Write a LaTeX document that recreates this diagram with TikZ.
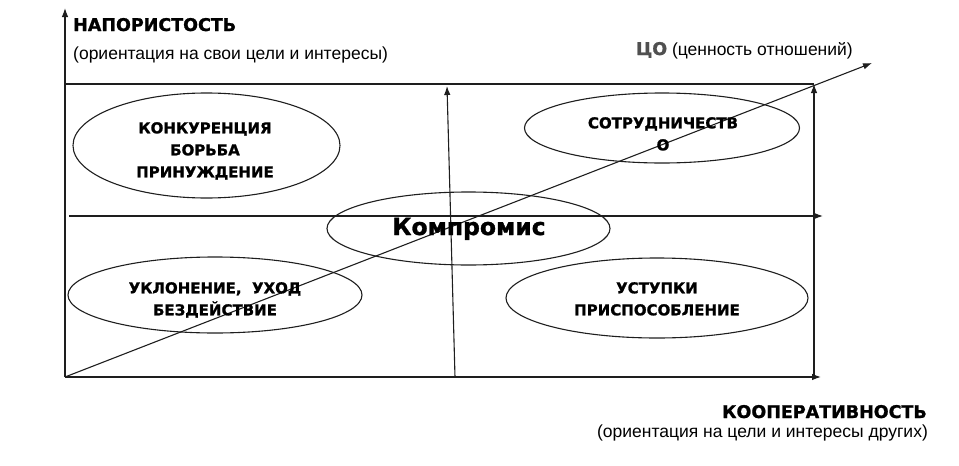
\documentclass[tikz,border=0pt]{standalone}
\usepackage{fontspec}
\setmainfont{Liberation Sans}
\newfontfamily\heavyfont{DejaVu Sans}[BoldFeatures={FakeBold=1.2}]
\usetikzlibrary{arrows.meta, positioning, shapes.geometric}
\definecolor{cline}{HTML}{1E1E1E}
\definecolor{cgray}{HTML}{505050}

\tikzset{
  axis/.style={draw=cline, line width=1.1pt, -{Latex[length=9pt, width=6.5pt]}},
  frame/.style={draw=cline, line width=1.1pt},
  oval/.style={ellipse, draw=cline, line width=1.1pt, inner sep=0pt},
  ovaltext/.style={font=\heavyfont\bfseries\fontsize{15}{22}\selectfont, align=center, inner sep=0pt, anchor=north},
  title/.style={font=\heavyfont\bfseries\fontsize{17.5}{20}\selectfont, inner sep=0pt},
  note/.style={font=\fontsize{17.5}{20}\selectfont, inner sep=0pt},
}

\begin{document}
\begin{tikzpicture}[x=1pt, y=-1pt]
  \useasboundingbox (0,0) rectangle (959,466);

  % corners of the field
  \coordinate (O) at (65,377);
  \coordinate (Ytop) at (65,8);
  \coordinate (Xend) at (821,377);
  \coordinate (TL) at (65,84);
  \coordinate (TR) at (814,84);
  \coordinate (BR) at (814,377);
  \coordinate (ML) at (69,216);
  \coordinate (MR) at (823,216);
  \coordinate (MB) at (455,377);
  \coordinate (MT) at (447,86);
  \coordinate (CO) at (872,63);

  % axes and grid lines
  \draw[axis] (O) -- (Ytop);
  \draw[axis] (O) -- (Xend);
  \draw[frame] (TL) -- (TR);
  \draw[axis] (BR) -- (TR);
  \draw[axis] (ML) -- (MR);
  \draw[axis] (MB) -- (MT);
  \draw[axis] (O) -- (CO);

  % ellipses
  \node[oval, minimum width=267pt, minimum height=105pt] (konk) at (206.5,145.5) {};
  \node[oval, minimum width=275pt, minimum height=70pt] (sotr) at (662,128) {};
  \node[oval, minimum width=283pt, minimum height=73pt] (komp) at (468.5,228.5) {};
  \node[oval, minimum width=294pt, minimum height=76pt] (uklon) at (215,295) {};
  \node[oval, minimum width=302pt, minimum height=80pt] (ustup) at (657,298) {};

  % texts in ellipses
  \node[ovaltext] (konkT) at (205,122) {КОНКУРЕНЦИЯ\\БОРЬБА\\ПРИНУЖДЕНИЕ};
  \node[ovaltext] (sotrT) at (663,117) {СОТРУДНИЧЕСТВ\\О};
  \node[font=\heavyfont\bfseries\fontsize{23.5}{26}\selectfont, inner sep=0pt, anchor=base] (kompT) at (469,235) {Компромис};
  \node[ovaltext] (uklonT) at (215,282) {УКЛОНЕНИЕ,~~УХОД\\БЕЗДЕЙСТВИЕ};
  \node[ovaltext] (ustupT) at (657,282) {УСТУПКИ\\ПРИСПОСОБЛЕНИЕ};

  % axis labels
  \node[title, anchor=base west] (napor) at (73,31) {НАПОРИСТОСТЬ};
  \node[note, anchor=base west] (naporS) at (73,59) {(ориентация на свои цели и интересы)};
  \node[note, anchor=base east] (coL) at (853,55) {{\heavyfont\bfseries\color{cgray}ЦО} (ценность отношений)};
  \node[title, anchor=base east] (koop) at (927,418) {КООПЕРАТИВНОСТЬ};
  \node[note, anchor=base east] (koopS) at (928,437) {(ориентация на цели и интересы других)};
\end{tikzpicture}
\end{document}
